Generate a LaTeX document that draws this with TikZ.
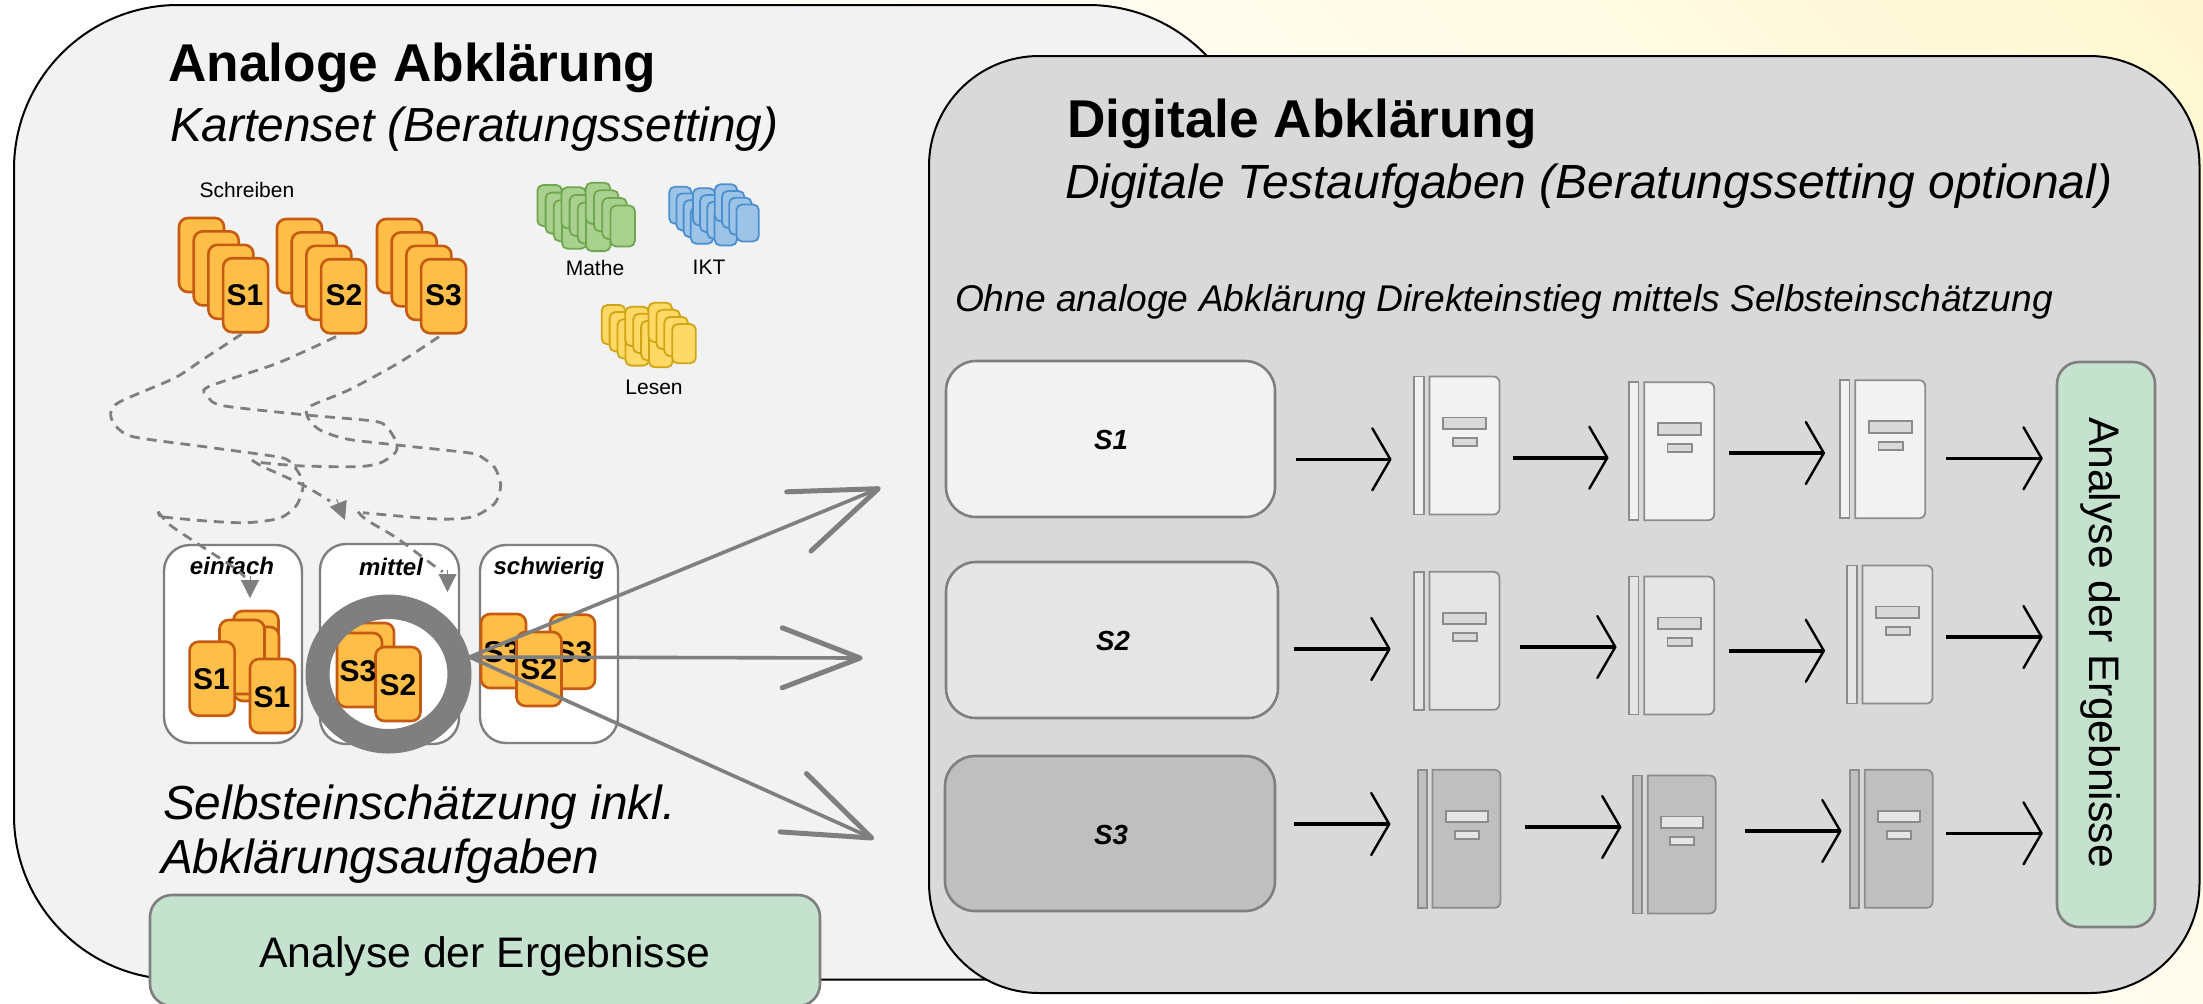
\documentclass[tikz,border=0pt]{standalone}
\usepackage{fontspec}
\setmainfont{Liberation Sans}
\usetikzlibrary{arrows.meta,fit,calc}
\definecolor{lineg}{HTML}{7F7F7F}
\definecolor{panelA}{HTML}{F2F2F2}
\definecolor{panelB}{HTML}{D9D9D9}
\definecolor{mint}{HTML}{C5E2CF}
\definecolor{orfill}{HTML}{FFBE48}
\definecolor{orline}{HTML}{C55A11}
\definecolor{grfill}{HTML}{A9D18E}
\definecolor{grline}{HTML}{6FA64F}
\definecolor{blfill}{HTML}{9DC3E6}
\definecolor{blline}{HTML}{4A8FD0}
\definecolor{yefill}{HTML}{FFD966}
\definecolor{yeline}{HTML}{CFA516}
\definecolor{cream}{HTML}{FFF4BE}
\pgfdeclareverticalshading{bgshade}{100bp}{color(0bp)=(white); color(50bp)=(white); color(100bp)=(cream)}
\newcommand{\fsz}[1]{\fontsize{#1}{#1}\selectfont}
\tikzset{
  x=0.5pt,y=-0.5pt,
  txt/.style={inner sep=0pt,outer sep=0pt,anchor=base,text=black},
  bigbox/.style={draw=black,line width=1pt,inner sep=0pt},
  stepbox/.style={draw=lineg,line width=1.3pt,rounded corners=15pt,inner sep=0pt},
  levelbox/.style={draw=lineg,line width=1.2pt,fill=white,rounded corners=13pt,inner sep=0pt},
  mintbox/.style={draw=lineg,line width=1.3pt,fill=mint,rounded corners=11pt,inner sep=0pt},
  orcard/.style={draw=orline,fill=orfill,line width=1.3pt,rounded corners=4.5pt},
  grcard/.style={draw=grline,fill=grfill,line width=0.9pt,rounded corners=2.8pt},
  blcard/.style={draw=blline,fill=blfill,line width=0.9pt,rounded corners=2.8pt},
  yecard/.style={draw=yeline,fill=yefill,line width=0.9pt,rounded corners=2.8pt},
  cardlabel/.style={txt,font=\fsz{15}\bfseries},
  levellabel/.style={txt,font=\fsz{12}\bfseries\itshape},
  smalllabel/.style={txt,font=\fsz{10.5}},
  dashline/.style={draw=lineg,line width=1.4pt,dash pattern=on 5pt off 3.5pt},
  dashhead/.style={draw=lineg,line width=0.5pt,-{Triangle[length=9pt,width=9pt,fill=lineg]}},
  grayarrow/.style={draw=lineg,line width=1.8pt,-{Straight Barb[length=43pt,width=32pt,line width=2.5pt,round]}},
  grayarrowm/.style={draw=lineg,line width=1.8pt,-{Straight Barb[length=39pt,width=30pt,line width=2.5pt,round]}},
  blackarrow/.style={draw=black,line width=1.8pt,-{Straight Barb[length=9pt,width=31pt,line width=1.2pt,round]}},
}
% stack of four cards: x y w h dx dy style
\newcommand{\cardstack}[7]{\foreach \i in {0,1,2,3}{\draw[#7] ({#1+\i*#5},{#2+\i*#6}) rectangle ++(#3,#4);}}
% single orange card: x y
\newcommand{\orc}[2]{\draw[orcard] (#1,#2) rectangle ++(45,74);}
% test sheet icon: x y xscale panel bar
\newcommand{\sheet}[5]{\begin{scope}[shift={(#1,#2)},xscale=#3,draw=lineg!90!white,line width=0.9pt]
  \draw[fill=#4] (0,0) rectangle (9.4,138);
  \draw[fill=#4] (15.2,0) [rounded corners=3pt] -- (85.2,0) -- (85.2,138) [sharp corners] -- (15.2,138) -- cycle;
  \draw[fill=#5] (29,41) rectangle ++(43,11.4);
  \draw[fill=#5] (38.4,61.5) rectangle ++(24.5,8);
\end{scope}}
\begin{document}
\begin{tikzpicture}
\useasboundingbox (0,0) rectangle (2203,1003);
\shade[shading=bgshade,shading angle=-45] (0,0) rectangle (2203,1003);

% left panel
\node[bigbox,fill=panelA,rounded corners=82pt,fit={(14,5)(1252,979.5)}] (analog) {};
\node[txt,font=\fsz{26.6}\bfseries,anchor=base west] (t1) at (168.5,81.5) {Analoge Abklärung};
\node[txt,font=\fsz{23.9}\itshape,anchor=base west] (t2) at (170,141) {Kartenset (Beratungssetting)};
\node[smalllabel] (schreiben) at (247,197.5) {Schreiben};
\node[smalllabel] (mathe) at (595,275.5) {Mathe};
\node[smalllabel] (ikt) at (709,274.5) {IKT};
\node[smalllabel] (lesen) at (654,394.5) {Lesen};

% orange stacks
\foreach \x/\y in {179/218,277/219,377/219}{
  \foreach \i in {0,1,2,3}{\orc{\x+\i*14.7}{\y+\i*13.4}}
}
\node[cardlabel] (cS1) at (245,305) {S1};
\node[cardlabel] (cS2) at (344,305) {S2};
\node[cardlabel] (cS3) at (443.5,305) {S3};
\coordinate (d1s) at (241.8,334);
\coordinate (d2s) at (336,336.7);
\coordinate (d3s) at (439,336.7);

% topic stacks
\cardstack{537.4}{185}{24.5}{41}{8.2}{7.6}{grcard}
\cardstack{561.4}{187.3}{24.5}{41}{8.2}{7.6}{grcard}
\cardstack{585.8}{182.7}{24.5}{41}{8.2}{7.6}{grcard}
\cardstack{669.2}{186.7}{22.4}{37}{7.2}{6.7}{blcard}
\cardstack{692.9}{188.3}{22.4}{37}{7.2}{6.7}{blcard}
\cardstack{714.8}{184.3}{22.4}{37}{7.2}{6.7}{blcard}
\cardstack{601.7}{305}{23.6}{39.3}{7.9}{7.1}{yecard}
\cardstack{625.3}{306.7}{23.6}{39.3}{7.9}{7.1}{yecard}
\cardstack{648.5}{302.7}{23.6}{39.3}{7.9}{7.1}{yecard}

% level boxes
\node[levelbox,fit={(164,545)(302,743)}] (einfach) {};
\node[levelbox,fit={(320,544)(459,744)}] (mittel) {};
\node[levelbox,fit={(480,545)(618,743)}] (schwierig) {};
\node[levellabel] (le) at (232,574) {einfach};
\node[levellabel] (lm) at (391,575) {mittel};
\node[levellabel] (ls) at (549,574) {schwierig};

% cards einfach
\orc{233.5}{611}\orc{234}{627}\orc{219.5}{620}\orc{189.6}{641.7}\orc{250}{659}
\node[cardlabel] (e1) at (211.5,689) {S1};
\node[cardlabel] (e2) at (272,707) {S1};
% cards mittel
\orc{349}{623}\orc{337}{633}\orc{375.5}{647}
\node[cardlabel] (m1) at (358,681) {S3};
\node[cardlabel] (m2) at (398,695) {S2};
% cards schwierig
\orc{481}{614}\node[cardlabel] (s1) at (502,662) {S3};
\orc{550}{614.7}\node[cardlabel] (s2) at (574,662) {S3};
\orc{516.5}{632}\node[cardlabel] (s3) at (538.6,679) {S2};

% ring
\fill[lineg,even odd rule] (388.5,674) ellipse [x radius=83,y radius=79.5] (388.5,674) ellipse [x radius=59,y radius=55];

% dashed paths
\draw[dashline] plot[smooth,tension=0.45] coordinates {(d1s) (203.6,359) (174.6,378) (120,401.7) (110.7,413) (115,425) (133,436.7) (206.7,447) (276.7,456.7) (290,461.7) (300,475) (303,487) (296.7,505) (280,518) (246.7,522.7) (206.7,521) (160,516.7)};
\draw[dashline] (160,516.7) -- (158,511.7);
\draw[dashline] plot[smooth,tension=0.45] coordinates {(158,511.7) (170,525) (196.7,543) (233,567) (245,577)};
\draw[dashline] plot[smooth,tension=0.45] coordinates {(d2s) (278,363) (207.8,387) (208,396.7) (223,405.7) (306.7,415) (373,421) (386.7,426.7) (396.7,443) (395,453) (380,463) (356.7,466.7) (296.7,465.7) (253,461.7)};
\draw[dashline] plot[smooth,tension=0.45] coordinates {(252,460) (263,466.7) (303,485) (330,501)};
\draw[dashline] plot[smooth,tension=0.45] coordinates {(d3s) (398.5,363) (348.8,390) (309.4,406.7) (308,418) (320,430) (346.7,439) (396.7,445) (470,453) (483,458) (495,468) (500.7,485) (495,503) (473,516.7) (436.7,519) (363,512.7)};
\draw[dashline] plot[smooth,tension=0.45] coordinates {(358,511.7) (366.7,520) (396.7,538) (433,565) (442.7,571.7)};
\coordinate (h1a) at (250,576); \coordinate (h1b) at (250,598);
\coordinate (h2a) at (336.5,499); \coordinate (h2b) at (345,520);
\coordinate (h3a) at (447.5,570); \coordinate (h3b) at (447.5,592);
\draw[dashhead] (h1a) -- (h1b);
\draw[dashhead] (h2a) -- (h2b);
\draw[dashhead] (h3a) -- (h3b);

% texts lower left
\node[txt,font=\fsz{23.9}\itshape,anchor=base west] (t3) at (163,819) {Selbsteinschätzung inkl.};
\node[txt,font=\fsz{23.9}\itshape,anchor=base west] (t4) at (161,873) {Abklärungsaufgaben};
\node[mintbox,fit={(150,895)(820,1006)}] (resA) {};
\node[txt,font=\fsz{21.35}] (resAt) at (485,967) {Analyse der Ergebnisse};

% right panel
\node[bigbox,fill=panelB,rounded corners=55pt,fit={(929,56)(2199.5,993)}] (digital) {};
\node[txt,font=\fsz{26.6}\bfseries,anchor=base west] (t5) at (1067,137) {Digitale Abklärung};
\node[txt,font=\fsz{23.95}\itshape,anchor=base west] (t6) at (1065,198) {Digitale Testaufgaben (Beratungssetting optional)};
\node[txt,font=\fsz{18.6}\itshape,anchor=base west] (t7) at (955,311) {Ohne analoge Abklärung Direkteinstieg mittels Selbsteinschätzung};

\node[stepbox,fill=panelA,fit={(946,361)(1275,517)}] (rS1) {};
\node[stepbox,fill=black!10,fit={(946,562)(1278,718)}] (rS2) {};
\node[stepbox,fill=black!25,fit={(945,756)(1275,911)}] (rS3) {};
\node[txt,font=\fsz{13.8}\bfseries\itshape] (rS1t) at (1111,449.5) {S1};
\node[txt,font=\fsz{13.8}\bfseries\itshape] (rS2t) at (1113,650.5) {S2};
\node[txt,font=\fsz{13.8}\bfseries\itshape] (rS3t) at (1111,844.5) {S3};

\sheet{1414.3}{376.5}{1}{panelA}{panelB}
\sheet{1629}{382.2}{1}{panelA}{panelB}
\sheet{1840}{380.2}{1}{panelA}{panelB}
\sheet{1414.3}{571.8}{1}{black!10}{panelB}
\sheet{1629}{576.5}{1}{black!10}{panelB}
\sheet{1847.3}{565.5}{1}{black!10}{panelB}
\sheet{1417.8}{769.8}{0.97}{black!25}{black!10}
\sheet{1633}{775.5}{0.97}{black!25}{black!10}
\sheet{1850}{769.8}{0.97}{black!25}{black!10}

\node[mintbox,fit={(2057,362)(2155,927)}] (resB) {};
\node[txt,font=\fsz{21.35},rotate=-90] (resBt) at (2089,642.5) {Analyse der Ergebnisse};

% black arrows
\foreach \xa/\xb/\ya in {1295.5/1391.5/459.3,1512.5/1608.5/457.7,1728.6/1825/453,1945.7/2042.7/458.3,
  1293.7/1390.6/649,1520/1616.5/647,1728.6/1825/650.7,1945.7/2042.7/637,
  1293.8/1390.4/824,1524.8/1621.4/827,1744.8/1841.5/831,1946/2042.7/833.3}{
  \draw[blackarrow] (\xa,\ya) -- (\xb,\ya);
}

% gray arrows
\coordinate (src) at (469.5,657);
\coordinate (tipA) at (880.7,487.7);
\coordinate (tipB) at (862.7,658);
\coordinate (tipC) at (874,839);
\draw[grayarrow] (src) -- (tipA);
\draw[grayarrowm] (src) -- (tipB);
\draw[grayarrow] (src) -- (tipC);
\end{tikzpicture}
\end{document}
